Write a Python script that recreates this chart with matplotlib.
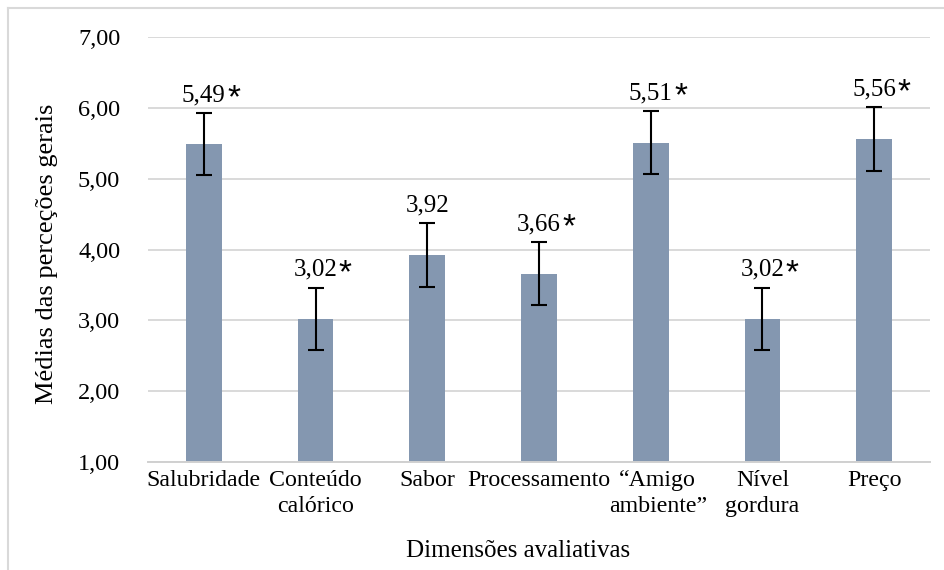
import matplotlib.pyplot as plt
from matplotlib.lines import Line2D
from matplotlib.transforms import ScaledTranslation

# average general perceptions per evaluative dimension
categories = ["Salubridade", "Conteúdo\ncalórico", "Sabor", "Processamento",
              "\u201cAmigo\nambiente\u201d", "Nível\ngordura", "Preço"]
means = [5.49, 3.02, 3.92, 3.66, 5.51, 3.02, 5.56]
errors = [0.44, 0.44, 0.45, 0.44, 0.44, 0.44, 0.45]
significant = [True, True, False, True, True, True, True]

plt.rcParams["font.family"] = ["Liberation Serif", "DejaVu Serif"]

fig = plt.figure(figsize=(9.44, 5.7), dpi=100)
ax = fig.add_axes([148 / 944, 108 / 570, 782 / 944, 425 / 570])

x = list(range(len(categories)))
ax.bar(x, means, width=0.32, color="#8497b0", zorder=2)
ax.errorbar(x, means, yerr=errors, fmt="none", ecolor="black",
            elinewidth=1.5, capsize=6, capthick=1.5, zorder=3)

for xi, m, e, sig in zip(x, means, errors, significant):
    lbl = f"{m:.2f}".replace(".", ",")
    ax.annotate(lbl, (xi, m + e), xytext=(0, 8.5), textcoords="offset points",
                ha="center", va="baseline", fontsize=18)
    if sig:
        ax.annotate("*", (xi, m + e), xytext=(21.5, 8.5 + 13), textcoords="offset points",
                    ha="center", va="top", fontsize=24, family="Liberation Sans")

ax.set_xlim(-0.5, len(categories) - 0.5)
ax.set_ylim(1, 7)
ax.set_yticks(range(1, 8))
ax.set_yticklabels([f"{v},00" for v in range(1, 8)], fontsize=17.5)
ax.set_xticks(x)
ax.set_xticklabels(categories, fontsize=17.2, linespacing=1.3)
ax.tick_params(axis="both", length=0)
ax.tick_params(axis="y", pad=20)
ax.tick_params(axis="x", pad=6)

# the quoted label sits a little right of its bar
shift = ScaledTranslation(7 / 100, 0, fig.dpi_scale_trans)
amigo = ax.get_xticklabels()[4]
amigo.set_transform(amigo.get_transform() + shift)

ax.yaxis.grid(True, color="#d9d9d9", linewidth=1.4, zorder=0)
ax.set_axisbelow(True)
for side in ["top", "right", "left"]:
    ax.spines[side].set_visible(False)
ax.spines["bottom"].set_color("#d0d0d0")
ax.spines["bottom"].set_linewidth(1.4)

fig.text(518 / 944, 1 - 551 / 570, "Dimensões avaliativas", ha="center", va="center", fontsize=18)
fig.text(47 / 944, 1 - 254 / 570, "Médias das perceções gerais", ha="center", va="center",
         rotation=90, fontsize=19)

# chart frame (only left and top edges fall inside the image)
fx, fy = 8 / 944, 1 - 8 / 570
fig.add_artist(Line2D([fx, fx], [0, fy], transform=fig.transFigure, color="#d9d9d9", lw=1.5))
fig.add_artist(Line2D([fx, 1], [fy, fy], transform=fig.transFigure, color="#d9d9d9", lw=1.5))

fig.savefig("out.png", dpi=100)
